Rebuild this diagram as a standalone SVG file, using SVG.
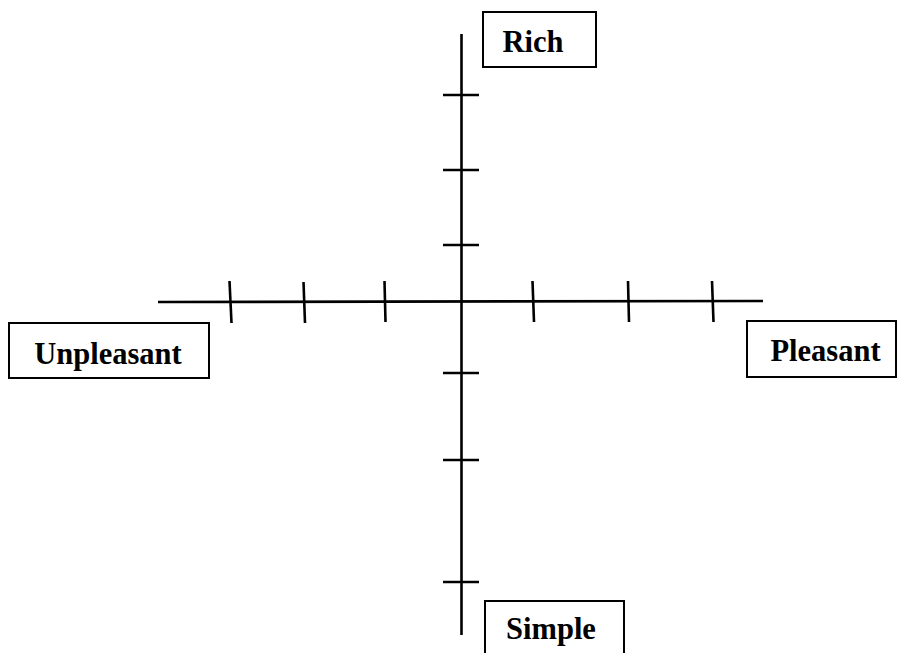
<svg xmlns="http://www.w3.org/2000/svg" width="897" height="653" viewBox="0 0 897 653">
<style>
.ax{stroke:#000;stroke-width:2.6;fill:none}
.box{fill:#fff;stroke:#000;stroke-width:2}
.lbl{font-family:"Liberation Serif","Times New Roman",serif;font-weight:bold;font-size:30.5px;fill:#000;text-anchor:middle}
</style>
<rect width="897" height="653" fill="#fff"/>
<g id="connectors">
<line class="ax" x1="461.5" y1="34" x2="461.5" y2="635"/>
<line class="ax" x1="158" y1="302" x2="763" y2="301"/>
<line class="ax" x1="443" y1="95" x2="479" y2="95"/>
<line class="ax" x1="443" y1="170" x2="479" y2="170"/>
<line class="ax" x1="443" y1="245" x2="479" y2="245"/>
<line class="ax" x1="443" y1="373" x2="479" y2="373"/>
<line class="ax" x1="443" y1="460" x2="479" y2="460"/>
<line class="ax" x1="443" y1="582" x2="479" y2="582"/>
<line class="ax" x1="229.5" y1="281" x2="231.5" y2="323"/>
<line class="ax" x1="303.5" y1="282" x2="305" y2="323"/>
<line class="ax" x1="384.5" y1="281" x2="385.5" y2="322"/>
<line class="ax" x1="532.5" y1="281" x2="534" y2="322"/>
<line class="ax" x1="628" y1="281" x2="629" y2="322"/>
<line class="ax" x1="712" y1="281" x2="713.5" y2="322"/>
</g>
<g id="rich">
<rect class="box" x="483" y="12" width="113" height="55"/>
<text class="lbl" x="533" y="51.5">Rich</text>
</g>
<g id="unpleasant">
<rect class="box" x="9" y="323" width="200" height="55"/>
<text class="lbl" x="108" y="363.5">Unpleasant</text>
</g>
<g id="pleasant">
<rect class="box" x="747" y="321" width="149" height="56"/>
<text class="lbl" x="825.5" y="360.5">Pleasant</text>
</g>
<g id="simple">
<rect class="box" x="485" y="601" width="139" height="60"/>
<text class="lbl" x="551" y="638.5">Simple</text>
</g>
</svg>
